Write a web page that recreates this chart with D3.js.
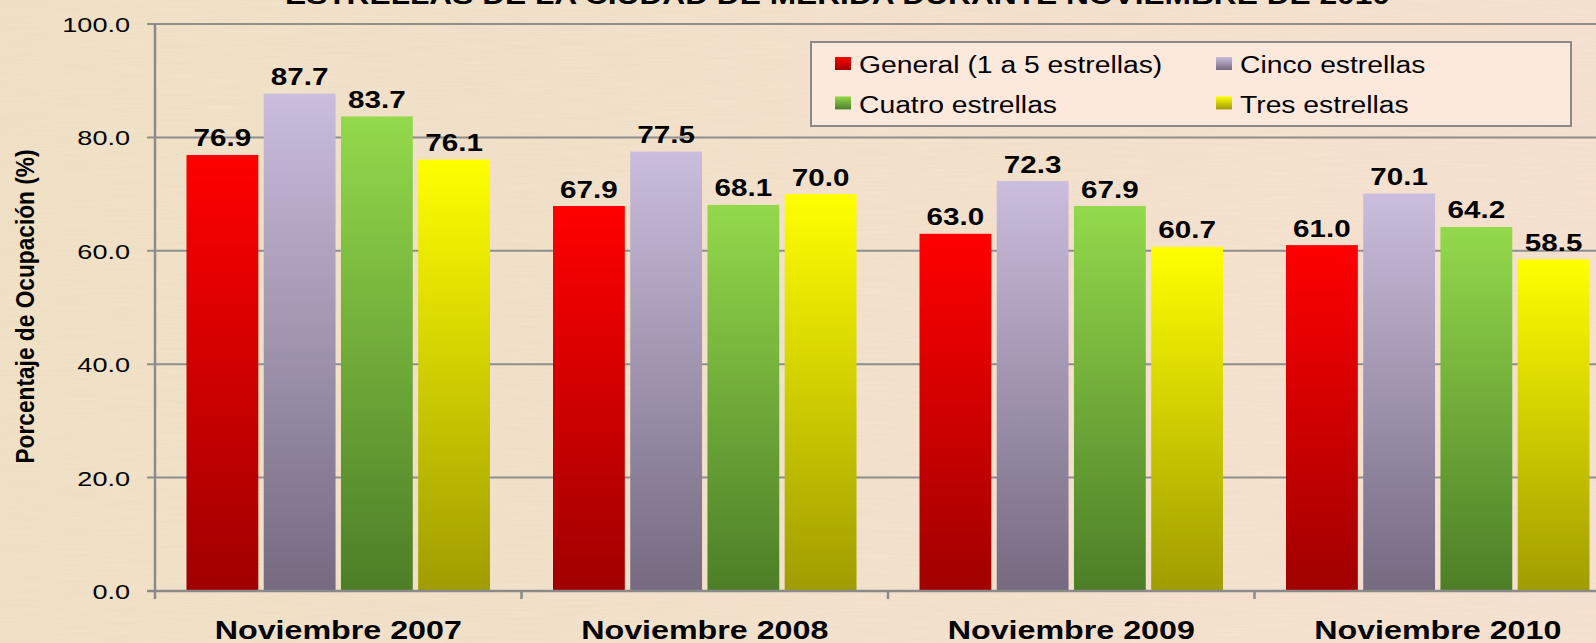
<!DOCTYPE html>
<meta charset="utf-8">
<style>
    body { margin: 0; overflow: hidden; }
    text { font-family: "Liberation Sans", Arial, sans-serif; fill: #000; }
    .grid { stroke: #8e8e8e; stroke-width: 2; }
    .axisline { stroke: #8a8a8a; stroke-width: 2.5; }
</style>

<body>
    <svg width="1596" height="643"></svg>
    <script src="https://d3js.org/d3.v7.min.js"></script>
    <script>
        // data
        var categories = ["Noviembre 2007", "Noviembre 2008", "Noviembre 2009", "Noviembre 2010"];
        var seriesNames = ["General (1 a 5 estrellas)", "Cinco estrellas", "Cuatro estrellas", "Tres estrellas"];
        var general = [76.9, 67.9, 63.0, 61.0];
        var cinco = [87.7, 77.5, 72.3, 70.1];
        var cuatro = [83.7, 68.1, 67.9, 64.2];
        var tres = [76.1, 70.0, 60.7, 58.5];
        var yTicks = [0, 20, 40, 60, 80, 100];
        var titleText = "ESTRELLAS DE LA CIUDAD DE MÉRIDA DURANTE NOVIEMBRE DE 2010";
        var yTitle = "Porcentaje de Ocupación (%)";

        var seriesValues = [general, cinco, cuatro, tres];
        // gradient stops: top colour, bottom colour
        var colors = [
            ["#ff0000", "#a00000"],
            ["#cabddd", "#756a80"],
            ["#93d94b", "#4d7e27"],
            ["#ffff00", "#a09c00"]
        ];

        var svg = d3.select("svg"),
            W = +svg.attr("width"),
            H = +svg.attr("height");

        var x0 = 155, y0 = 591, yTop = 24, band = 366.5;
        var stretch = 1.26; // the original picture is widened horizontally

        var defs = svg.append("defs");
        var bg = defs.append("linearGradient").attr("id", "bg")
            .attr("x1", 0).attr("x2", 1).attr("y1", 0).attr("y2", 0);
        bg.append("stop").attr("offset", "0%").attr("stop-color", "#f2e3c8");
        bg.append("stop").attr("offset", "100%").attr("stop-color", "#f8e3d2");

        // paper texture
        var paper = defs.append("filter").attr("id", "paper")
            .attr("x", 0).attr("y", 0).attr("width", 1).attr("height", 1);
        paper.append("feTurbulence").attr("type", "fractalNoise")
            .attr("baseFrequency", "0.02 0.6").attr("numOctaves", 2).attr("seed", 3);
        paper.append("feColorMatrix").attr("type", "matrix")
            .attr("values", "0 0 0 0 0.55  0 0 0 0 0.45  0 0 0 0 0.35  0 0 0 0.12 0");

        colors.forEach(function (c, i) {
            var g = defs.append("linearGradient").attr("id", "g" + i)
                .attr("x1", 0).attr("x2", 0).attr("y1", 0).attr("y2", 1);
            g.append("stop").attr("offset", "0%").attr("stop-color", c[0]);
            g.append("stop").attr("offset", "100%").attr("stop-color", c[1]);
        });

        svg.append("rect").attr("width", W).attr("height", H).attr("fill", "url(#bg)");
        svg.append("rect").attr("width", W).attr("height", H).attr("filter", "url(#paper)");

        var x = d3.scaleBand().domain(categories).range([x0, x0 + band * categories.length]);
        var xs = d3.scaleBand().domain(d3.range(seriesNames.length))
            .range([31.5, band - 31.5]).paddingInner(0.07);
        var y = d3.scaleLinear().domain([0, 100]).range([y0, yTop]);

        // gridlines
        svg.selectAll(".grid").data(yTicks.slice(1)).enter()
            .append("line").attr("class", "grid")
            .attr("x1", x0 - 8).attr("x2", W)
            .attr("y1", function (d) { return y(d); })
            .attr("y2", function (d) { return y(d); });

        // y tick labels
        svg.selectAll(".ytick").data(yTicks).enter()
            .append("text").attr("class", "ytick")
            .attr("transform", function (d) {
                return "translate(" + (x0 - 25) + "," + (y(d) + 8) + ") scale(1.32,1)";
            })
            .style("font-size", "20.5px")
            .style("text-anchor", "end")
            .text(function (d) { return d.toFixed(1); });

        // bars
        var groups = svg.selectAll(".grp").data(categories).enter()
            .append("g").attr("class", "grp")
            .attr("transform", function (d) { return "translate(" + x(d) + ",0)"; });

        groups.each(function (cat, ci) {
            var g = d3.select(this);
            var rows = seriesValues.map(function (s, si) { return { si: si, v: s[ci] }; });
            g.selectAll("rect").data(rows).enter().append("rect")
                .attr("x", function (d) { return xs(d.si); })
                .attr("width", xs.bandwidth())
                .attr("y", function (d) { return y(d.v); })
                .attr("height", function (d) { return y0 - y(d.v); })
                .attr("fill", function (d) { return "url(#g" + d.si + ")"; });
            g.selectAll(".val").data(rows).enter().append("text")
                .attr("class", "val")
                .attr("transform", function (d) {
                    return "translate(" + (xs(d.si) + xs.bandwidth() / 2) + "," + (y(d.v) - 8.5) + ") scale(" + stretch + ",1)";
                })
                .style("font-size", "23.5px")
                .style("font-weight", "bold")
                .style("text-anchor", "middle")
                .text(function (d) { return d.v.toFixed(1); });
        });

        // axes
        svg.append("line").attr("class", "axisline")
            .attr("x1", x0).attr("x2", x0).attr("y1", yTop).attr("y2", y0 + 1);
        svg.append("line").attr("class", "axisline")
            .attr("x1", x0 - 8).attr("x2", W).attr("y1", y0).attr("y2", y0);
        svg.selectAll(".xtick").data(categories).enter()
            .append("line").attr("class", "axisline")
            .attr("x1", function (d) { return x(d); })
            .attr("x2", function (d) { return x(d); })
            .attr("y1", y0).attr("y2", y0 + 8);

        svg.selectAll(".xlab").data(categories).enter()
            .append("text").attr("class", "xlab")
            .attr("transform", function (d) {
                return "translate(" + (x(d) + band / 2) + ",639) scale(1.24,1)";
            })
            .style("font-size", "26px")
            .style("font-weight", "bold")
            .style("text-anchor", "middle")
            .text(function (d) { return d; });

        // y axis title
        svg.append("text")
            .attr("transform", "translate(34.3,306.5) scale(1.1,1) rotate(-90)")
            .style("font-size", "22.7px")
            .style("font-weight", "bold")
            .style("text-anchor", "middle")
            .text(yTitle);

        // title, cut off at the top edge as in the source
        svg.append("text")
            .attr("x", 285).attr("y", 3.5)
            .attr("textLength", 1105).attr("lengthAdjust", "spacingAndGlyphs")
            .style("font-size", "26px")
            .style("font-weight", "bold")
            .text(titleText);

        // legend
        var legend = svg.append("g");
        legend.append("rect")
            .attr("x", 811).attr("y", 42).attr("width", 760).attr("height", 84)
            .attr("fill", "#fde9dc").attr("stroke", "#8a8a8a").attr("stroke-width", 2);
        var item = legend.selectAll(".li").data(seriesNames).enter()
            .append("g").attr("class", "li")
            .attr("transform", function (d, i) {
                return "translate(" + (i % 2 ? 1216 : 835) + "," + (i < 2 ? 0 : 39.4) + ")";
            });
        item.append("rect")
            .attr("x", 0).attr("y", 57).attr("width", 16).attr("height", 13)
            .attr("fill", function (d, i) { return "url(#g" + i + ")"; });
        item.append("text")
            .attr("transform", "translate(24,73.3) scale(1.23,1)")
            .style("font-size", "23px")
            .text(function (d) { return d; });
    </script>
</body>
